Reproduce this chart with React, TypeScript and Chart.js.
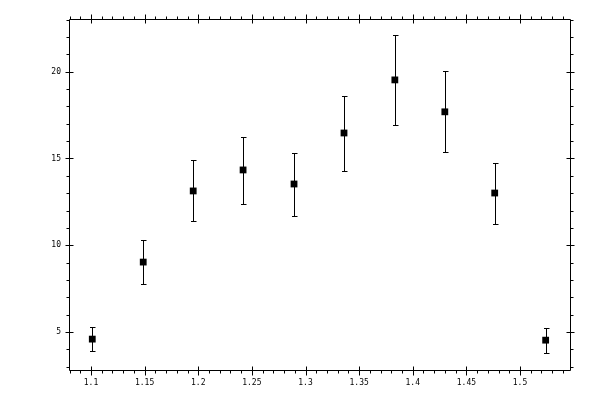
import React, { useEffect, useRef } from "react";
import { Chart, registerables } from "chart.js";

Chart.register(...registerables);

const xValues = [1.1012, 1.1487, 1.1953, 1.2418, 1.2893, 1.3359, 1.3833, 1.4299, 1.4764, 1.5239];
const yValues = [4.59, 9.03, 13.13, 14.34, 13.53, 16.47, 19.53, 17.69, 13.01, 4.53];
const yUpper = [5.28, 10.32, 14.92, 16.26, 15.3, 18.61, 22.13, 20.05, 14.74, 5.22];
const yLower = [3.9, 7.76, 11.41, 12.4, 11.69, 14.28, 16.94, 15.38, 11.22, 3.78];

const xTickValues = [1.1, 1.15, 1.2, 1.25, 1.3, 1.35, 1.4, 1.45, 1.5];
const xTickLabels = ["1.1", "1.15", "1.2", "1.25", "1.3", "1.35", "1.4", "1.45", "1.5"];
const yTickValues = [5, 10, 15, 20];
const yTickLabels = ["5", "10", "15", "20"];

const X_MIN = 1.0795;
const X_MAX = 1.5466;
const Y_MIN = 2.81;
const Y_MAX = 23.04;
const X_MINOR_STEP = 0.01;
const Y_MINOR_STEP = 1;

const FONT = { family: "'DejaVu Sans Mono', monospace", size: 8 };

const frameAndErrorPlugin = {
  id: "frameAndError",
  beforeDatasetsDraw(chart: any) {
    const ctx = chart.ctx;
    const xs = chart.scales.x;
    const ys = chart.scales.y;
    const ca = chart.chartArea;
    const L = Math.round(ca.left) + 0.5;
    const R = Math.round(ca.right) + 0.5;
    const T = Math.round(ca.top) + 0.5;
    const B = Math.round(ca.bottom) + 0.5;
    ctx.save();
    ctx.strokeStyle = "#000";
    ctx.lineWidth = 1;
    ctx.beginPath();
    ctx.rect(L, T, R - L, B - T);
    ctx.stroke();

    // minor ticks (outward)
    ctx.beginPath();
    for (let v = Math.ceil(X_MIN / X_MINOR_STEP) * X_MINOR_STEP; v <= X_MAX; v += X_MINOR_STEP) {
      const px = Math.round(xs.getPixelForValue(v)) + 0.5;
      ctx.moveTo(px, B);
      ctx.lineTo(px, B + 3);
      ctx.moveTo(px, T);
      ctx.lineTo(px, T - 3);
    }
    for (let v = Math.ceil(Y_MIN / Y_MINOR_STEP) * Y_MINOR_STEP; v <= Y_MAX; v += Y_MINOR_STEP) {
      const py = Math.round(ys.getPixelForValue(v)) + 0.5;
      ctx.moveTo(L, py);
      ctx.lineTo(L - 3, py);
      ctx.moveTo(R, py);
      ctx.lineTo(R + 3, py);
    }
    // major ticks (crossing)
    xTickValues.forEach((v) => {
      const px = Math.round(xs.getPixelForValue(v)) + 0.5;
      ctx.moveTo(px, B - 4);
      ctx.lineTo(px, B + 5);
      ctx.moveTo(px, T + 4);
      ctx.lineTo(px, T - 5);
    });
    yTickValues.forEach((v) => {
      const py = Math.round(ys.getPixelForValue(v)) + 0.5;
      ctx.moveTo(L + 4, py);
      ctx.lineTo(L - 4, py);
      ctx.moveTo(R - 4, py);
      ctx.lineTo(R + 4, py);
    });
    ctx.stroke();

    // error bars
    ctx.beginPath();
    for (let i = 0; i < xValues.length; i++) {
      const px = Math.round(xs.getPixelForValue(xValues[i])) + 0.5;
      const pt = Math.round(ys.getPixelForValue(yUpper[i])) + 0.5;
      const pb = Math.round(ys.getPixelForValue(yLower[i])) + 0.5;
      ctx.moveTo(px, pt);
      ctx.lineTo(px, pb);
      ctx.moveTo(px - 2.5, pt);
      ctx.lineTo(px + 3, pt);
      ctx.moveTo(px - 2.5, pb);
      ctx.lineTo(px + 3, pb);
    }
    ctx.stroke();
    ctx.restore();
  },
};

export default function App() {
  const ref = useRef<HTMLCanvasElement | null>(null);
  useEffect(() => {
    if (!ref.current) return;
    const chart = new Chart(ref.current, {
      type: "scatter",
      data: {
        datasets: [
          {
            data: xValues.map((x, i) => ({ x, y: yValues[i] })),
            pointStyle: "rect",
            pointRadius: 4.8,
            pointHoverRadius: 4.8,
            backgroundColor: "#000",
            borderWidth: 0,
          },
        ],
      },
      options: {
        animation: false,
        responsive: false,
        devicePixelRatio: 1,
        events: [],
        layout: { padding: { left: 0, top: 19, right: 30, bottom: 0 } },
        plugins: { legend: { display: false }, tooltip: { enabled: false } },
        scales: {
          x: {
            type: "linear",
            min: X_MIN,
            max: X_MAX,
            grid: { display: false, drawTicks: false },
            border: { display: false },
            afterBuildTicks: (s: any) => {
              s.ticks = xTickValues.map((v) => ({ value: v }));
            },
            afterFit: (s: any) => {
              s.height = 30;
            },
            ticks: {
              padding: 8,
              color: "#000",
              font: FONT,
              maxRotation: 0,
              autoSkip: false,
              callback: (v: any) => {
                const i = xTickValues.findIndex((t) => Math.abs(t - v) < 1e-6);
                return i >= 0 ? xTickLabels[i] : "";
              },
            },
          },
          y: {
            type: "linear",
            min: Y_MIN,
            max: Y_MAX,
            grid: { display: false, drawTicks: false },
            border: { display: false },
            afterBuildTicks: (s: any) => {
              s.ticks = yTickValues.map((v) => ({ value: v }));
            },
            afterFit: (s: any) => {
              s.width = 69;
            },
            ticks: {
              padding: 8,
              color: "#000",
              font: FONT,
              autoSkip: false,
              callback: (v: any) => {
                const i = yTickValues.findIndex((t) => Math.abs(t - v) < 1e-6);
                return i >= 0 ? yTickLabels[i] : "";
              },
            },
          },
        },
      },
      plugins: [frameAndErrorPlugin],
    } as any);
    return () => chart.destroy();
  }, []);
  return (
    <div style={{ position: "absolute", left: 0, top: 0, width: 600, height: 400, background: "#fff" }}>
      <canvas ref={ref} width={600} height={400} style={{ width: 600, height: 400 }} />
    </div>
  );
}
